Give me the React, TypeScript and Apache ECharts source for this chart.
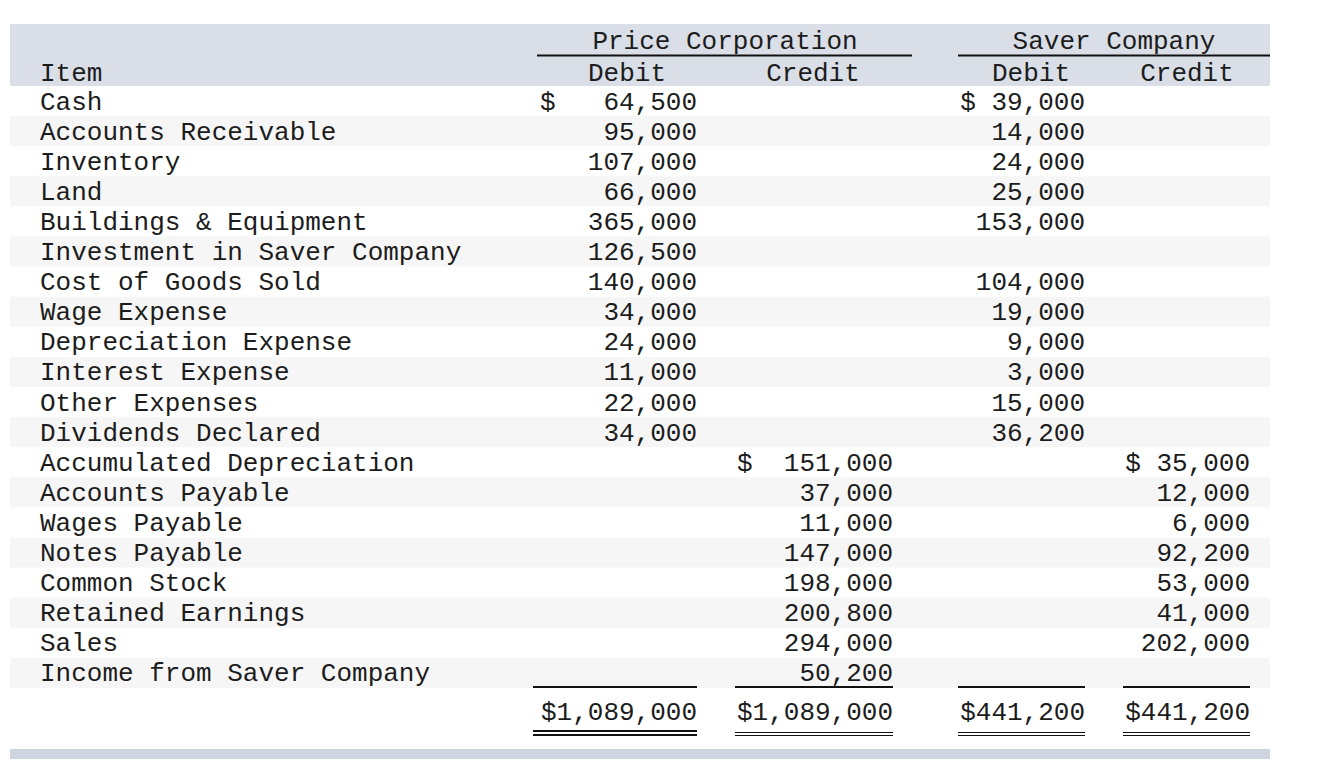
import React, { useEffect, useRef } from "react";
import * as echarts from "echarts";

const items = [
  "Cash",
  "Accounts Receivable",
  "Inventory",
  "Land",
  "Buildings & Equipment",
  "Investment in Saver Company",
  "Cost of Goods Sold",
  "Wage Expense",
  "Depreciation Expense",
  "Interest Expense",
  "Other Expenses",
  "Dividends Declared",
  "Accumulated Depreciation",
  "Accounts Payable",
  "Wages Payable",
  "Notes Payable",
  "Common Stock",
  "Retained Earnings",
  "Sales",
  "Income from Saver Company",
];

const priceDebit: (number | null)[] = [64500, 95000, 107000, 66000, 365000, 126500, 140000, 34000, 24000, 11000, 22000, 34000, null, null, null, null, null, null, null, null];
const priceCredit: (number | null)[] = [null, null, null, null, null, null, null, null, null, null, null, null, 151000, 37000, 11000, 147000, 198000, 200800, 294000, 50200];
const saverDebit: (number | null)[] = [39000, 14000, 24000, 25000, 153000, null, 104000, 19000, 9000, 3000, 15000, 36200, null, null, null, null, null, null, null, null];
const saverCredit: (number | null)[] = [null, null, null, null, null, null, null, null, null, null, null, null, 35000, 12000, 6000, 92200, 53000, 41000, 202000, null];
const totals = [1089000, 1089000, 441200, 441200];

const companies = ["Price Corporation", "Saver Company"];
const colHeaders = ["Debit", "Credit", "Debit", "Credit"];
const itemHeader = "Item";

const FONT = "26px 'Liberation Mono', 'DejaVu Sans Mono', monospace";
const TXT = "#1c1c1c";
const DY = 1.5;

const fmt = (v: number) => v.toLocaleString("en-US");

function txt(text: string, x: number, y: number, align: string) {
  return {
    type: "text",
    x,
    y: y + DY,
    silent: true,
    style: {
      text,
      font: FONT,
      fill: TXT,
      align,
      textAlign: align,
      verticalAlign: "middle",
      textVerticalAlign: "middle",
    },
  };
}

function hline(x1: number, x2: number, y: number, w: number) {
  return {
    type: "line",
    silent: true,
    shape: { x1, y1: y, x2, y2: y },
    style: { stroke: "#111", lineWidth: w },
  };
}

export default function App() {
  const ref = useRef<HTMLDivElement>(null);
  useEffect(() => {
    if (!ref.current) return;
    const chart = echarts.init(ref.current, undefined, { renderer: "svg" });

    const rowY = (i: number) => 101 + 30.1 * i;
    const left = 10;
    const right = 1270;
    const labelX = 40;
    const colRight = [697, 893, 1085, 1250];
    const colCenter = [627, 813, 1031, 1187];
    const dollarX = [540, 737];
    const cols = [priceDebit, priceCredit, saverDebit, saverCredit];

    const els: any[] = [];
    els.push({ type: "rect", silent: true, shape: { x: left, y: 24, width: right - left, height: 62 }, style: { fill: "#d9dee7" } });
    items.forEach((_, i) => {
      if (i % 2 === 1) {
        els.push({ type: "rect", silent: true, shape: { x: left, y: rowY(i) - 15, width: right - left, height: 30 }, style: { fill: "#f6f6f6" } });
      }
    });
    els.push({ type: "rect", silent: true, shape: { x: left, y: 749, width: right - left, height: 10 }, style: { fill: "#cfd5e0" } });

    els.push(txt(companies[0], 725, 40, "center"));
    els.push(txt(companies[1], 1114, 40, "center"));
    els.push(hline(537, 912, 55.5, 2));
    els.push(hline(958, 1270, 55.5, 2));
    els.push(txt(itemHeader, labelX, 72, "left"));
    colHeaders.forEach((h, c) => els.push(txt(h, colCenter[c], 72, "center")));

    items.forEach((name, i) => {
      const y = rowY(i);
      els.push(txt(name, labelX, y, "left"));
      cols.forEach((col, c) => {
        const v = col[i];
        if (v == null) return;
        const first = col.findIndex((d) => d != null) === i;
        if (first && c < 2) {
          els.push(txt("$", dollarX[c], y, "left"));
          els.push(txt(fmt(v), colRight[c], y, "right"));
        } else if (first) {
          els.push(txt("$ " + fmt(v), colRight[c], y, "right"));
        } else {
          els.push(txt(fmt(v), colRight[c], y, "right"));
        }
      });
    });

    const lineSpans = [
      [533, 697],
      [735, 893],
      [958, 1085],
      [1123, 1250],
    ];
    totals.forEach((t, c) => {
      const [a, b] = lineSpans[c];
      els.push(hline(a, b, 687, 2));
      els.push(txt("$" + fmt(t), colRight[c], 711, "right"));
      if (c === 0) {
        els.push(hline(a, b, 731, 2));
        els.push(hline(a, b, 735, 2));
      } else {
        els.push(hline(a, b, 732.5, 1));
        els.push(hline(a, b, 735.5, 1));
      }
    });

    chart.setOption({
      animation: false,
      backgroundColor: "#ffffff",
      graphic: { elements: els },
    });
    return () => chart.dispose();
  }, []);

  return (
    <div
      ref={ref}
      style={{ position: "fixed", left: 0, top: 0, width: 1342, height: 770 }}
    />
  );
}
